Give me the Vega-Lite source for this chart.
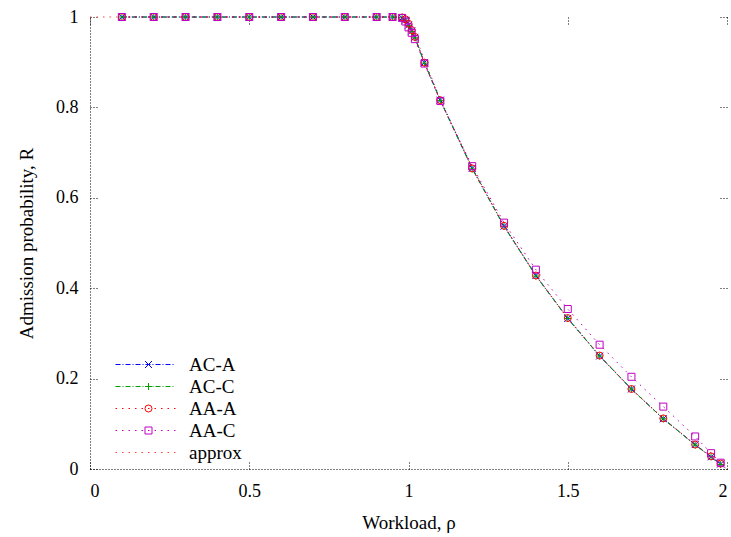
{
  "$schema": "https://vega.github.io/schema/vega-lite/v6.json",
  "width": 637,
  "height": 452,
  "autosize": {"type": "none"},
  "padding": {"left": 90, "top": 17, "right": 4, "bottom": 68},
  "background": "white",
  "config": {
    "font": "Liberation Serif",
    "view": {"stroke": null},
    "axis": {
      "labelFont": "Liberation Serif",
      "titleFont": "Liberation Serif",
      "labelFontSize": 18,
      "titleFontSize": 19,
      "titleFontWeight": "normal",
      "labelColor": "black",
      "titleColor": "black",
      "domainColor": "black",
      "domainDash": [1, 2],
      "tickColor": "black",
      "tickDash": [1, 2],
      "tickSize": -7,
      "grid": false
    },
    "legend": {
      "labelFont": "Liberation Serif",
      "labelFontSize": 19,
      "labelColor": "black"
    }
  },
  "data": {
    "values": [
      {"rho": 0.0, "R": 1.0, "s": "approx"},
      {"rho": 0.1, "R": 1.0, "s": "approx"},
      {"rho": 0.5, "R": 1.0, "s": "approx"},
      {"rho": 0.9, "R": 1.0, "s": "approx"},
      {"rho": 1.0, "R": 1.0, "s": "approx"},
      {"rho": 1.01, "R": 0.980, "s": "approx"},
      {"rho": 1.02, "R": 0.961, "s": "approx"},
      {"rho": 1.05, "R": 0.905, "s": "approx"},
      {"rho": 1.1, "R": 0.818, "s": "approx"},
      {"rho": 1.2, "R": 0.667, "s": "approx"},
      {"rho": 1.3, "R": 0.538, "s": "approx"},
      {"rho": 1.4, "R": 0.429, "s": "approx"},
      {"rho": 1.5, "R": 0.333, "s": "approx"},
      {"rho": 1.6, "R": 0.25, "s": "approx"},
      {"rho": 1.7, "R": 0.176, "s": "approx"},
      {"rho": 1.8, "R": 0.111, "s": "approx"},
      {"rho": 1.9, "R": 0.053, "s": "approx"},
      {"rho": 1.95, "R": 0.026, "s": "approx"},
      {"rho": 2.0, "R": 0.0, "s": "approx"},

      {"rho": 0.1, "R": 1.0, "s": "AC-A"},
      {"rho": 0.2, "R": 1.0, "s": "AC-A"},
      {"rho": 0.3, "R": 1.0, "s": "AC-A"},
      {"rho": 0.4, "R": 1.0, "s": "AC-A"},
      {"rho": 0.5, "R": 1.0, "s": "AC-A"},
      {"rho": 0.6, "R": 1.0, "s": "AC-A"},
      {"rho": 0.7, "R": 1.0, "s": "AC-A"},
      {"rho": 0.8, "R": 1.0, "s": "AC-A"},
      {"rho": 0.9, "R": 1.0, "s": "AC-A"},
      {"rho": 0.95, "R": 1.0, "s": "AC-A"},
      {"rho": 0.98, "R": 0.998, "s": "AC-A"},
      {"rho": 0.99, "R": 0.993, "s": "AC-A"},
      {"rho": 1.0, "R": 0.982, "s": "AC-A"},
      {"rho": 1.01, "R": 0.969, "s": "AC-A"},
      {"rho": 1.02, "R": 0.955, "s": "AC-A"},
      {"rho": 1.05, "R": 0.899, "s": "AC-A"},
      {"rho": 1.1, "R": 0.816, "s": "AC-A"},
      {"rho": 1.2, "R": 0.665, "s": "AC-A"},
      {"rho": 1.3, "R": 0.537, "s": "AC-A"},
      {"rho": 1.4, "R": 0.428, "s": "AC-A"},
      {"rho": 1.5, "R": 0.333, "s": "AC-A"},
      {"rho": 1.6, "R": 0.25, "s": "AC-A"},
      {"rho": 1.7, "R": 0.177, "s": "AC-A"},
      {"rho": 1.8, "R": 0.111, "s": "AC-A"},
      {"rho": 1.9, "R": 0.054, "s": "AC-A"},
      {"rho": 1.95, "R": 0.027, "s": "AC-A"},
      {"rho": 1.98, "R": 0.011, "s": "AC-A"},

      {"rho": 0.1, "R": 1.0, "s": "AC-C"},
      {"rho": 0.2, "R": 1.0, "s": "AC-C"},
      {"rho": 0.3, "R": 1.0, "s": "AC-C"},
      {"rho": 0.4, "R": 1.0, "s": "AC-C"},
      {"rho": 0.5, "R": 1.0, "s": "AC-C"},
      {"rho": 0.6, "R": 1.0, "s": "AC-C"},
      {"rho": 0.7, "R": 1.0, "s": "AC-C"},
      {"rho": 0.8, "R": 1.0, "s": "AC-C"},
      {"rho": 0.9, "R": 1.0, "s": "AC-C"},
      {"rho": 0.95, "R": 1.0, "s": "AC-C"},
      {"rho": 0.98, "R": 0.998, "s": "AC-C"},
      {"rho": 0.99, "R": 0.993, "s": "AC-C"},
      {"rho": 1.0, "R": 0.981, "s": "AC-C"},
      {"rho": 1.01, "R": 0.968, "s": "AC-C"},
      {"rho": 1.02, "R": 0.954, "s": "AC-C"},
      {"rho": 1.05, "R": 0.898, "s": "AC-C"},
      {"rho": 1.1, "R": 0.815, "s": "AC-C"},
      {"rho": 1.2, "R": 0.664, "s": "AC-C"},
      {"rho": 1.3, "R": 0.537, "s": "AC-C"},
      {"rho": 1.4, "R": 0.427, "s": "AC-C"},
      {"rho": 1.5, "R": 0.333, "s": "AC-C"},
      {"rho": 1.6, "R": 0.25, "s": "AC-C"},
      {"rho": 1.7, "R": 0.177, "s": "AC-C"},
      {"rho": 1.8, "R": 0.111, "s": "AC-C"},
      {"rho": 1.9, "R": 0.053, "s": "AC-C"},
      {"rho": 1.95, "R": 0.027, "s": "AC-C"},
      {"rho": 1.98, "R": 0.010, "s": "AC-C"},

      {"rho": 0.1, "R": 1.0, "s": "AA-A"},
      {"rho": 0.2, "R": 1.0, "s": "AA-A"},
      {"rho": 0.3, "R": 1.0, "s": "AA-A"},
      {"rho": 0.4, "R": 1.0, "s": "AA-A"},
      {"rho": 0.5, "R": 1.0, "s": "AA-A"},
      {"rho": 0.6, "R": 1.0, "s": "AA-A"},
      {"rho": 0.7, "R": 1.0, "s": "AA-A"},
      {"rho": 0.8, "R": 1.0, "s": "AA-A"},
      {"rho": 0.9, "R": 1.0, "s": "AA-A"},
      {"rho": 0.95, "R": 1.0, "s": "AA-A"},
      {"rho": 0.98, "R": 0.999, "s": "AA-A"},
      {"rho": 0.99, "R": 0.995, "s": "AA-A"},
      {"rho": 1.0, "R": 0.985, "s": "AA-A"},
      {"rho": 1.01, "R": 0.971, "s": "AA-A"},
      {"rho": 1.02, "R": 0.956, "s": "AA-A"},
      {"rho": 1.05, "R": 0.899, "s": "AA-A"},
      {"rho": 1.1, "R": 0.816, "s": "AA-A"},
      {"rho": 1.2, "R": 0.665, "s": "AA-A"},
      {"rho": 1.3, "R": 0.538, "s": "AA-A"},
      {"rho": 1.4, "R": 0.428, "s": "AA-A"},
      {"rho": 1.5, "R": 0.334, "s": "AA-A"},
      {"rho": 1.6, "R": 0.251, "s": "AA-A"},
      {"rho": 1.7, "R": 0.177, "s": "AA-A"},
      {"rho": 1.8, "R": 0.112, "s": "AA-A"},
      {"rho": 1.9, "R": 0.054, "s": "AA-A"},
      {"rho": 1.95, "R": 0.028, "s": "AA-A"},
      {"rho": 1.98, "R": 0.012, "s": "AA-A"},

      {"rho": 0.1, "R": 1.0, "s": "AA-C"},
      {"rho": 0.2, "R": 1.0, "s": "AA-C"},
      {"rho": 0.3, "R": 1.0, "s": "AA-C"},
      {"rho": 0.4, "R": 1.0, "s": "AA-C"},
      {"rho": 0.5, "R": 1.0, "s": "AA-C"},
      {"rho": 0.6, "R": 1.0, "s": "AA-C"},
      {"rho": 0.7, "R": 1.0, "s": "AA-C"},
      {"rho": 0.8, "R": 1.0, "s": "AA-C"},
      {"rho": 0.9, "R": 1.0, "s": "AA-C"},
      {"rho": 0.95, "R": 1.0, "s": "AA-C"},
      {"rho": 0.98, "R": 0.998, "s": "AA-C"},
      {"rho": 0.99, "R": 0.99, "s": "AA-C"},
      {"rho": 1.0, "R": 0.977, "s": "AA-C"},
      {"rho": 1.01, "R": 0.965, "s": "AA-C"},
      {"rho": 1.02, "R": 0.951, "s": "AA-C"},
      {"rho": 1.05, "R": 0.897, "s": "AA-C"},
      {"rho": 1.1, "R": 0.814, "s": "AA-C"},
      {"rho": 1.2, "R": 0.670, "s": "AA-C"},
      {"rho": 1.3, "R": 0.545, "s": "AA-C"},
      {"rho": 1.4, "R": 0.441, "s": "AA-C"},
      {"rho": 1.5, "R": 0.354, "s": "AA-C"},
      {"rho": 1.6, "R": 0.275, "s": "AA-C"},
      {"rho": 1.7, "R": 0.204, "s": "AA-C"},
      {"rho": 1.8, "R": 0.138, "s": "AA-C"},
      {"rho": 1.9, "R": 0.072, "s": "AA-C"},
      {"rho": 1.95, "R": 0.035, "s": "AA-C"},
      {"rho": 1.98, "R": 0.014, "s": "AA-C"}
    ]
  },
  "layer": [
    {
      "mark": {"type": "line", "strokeWidth": 1, "clip": false},
      "encoding": {
        "x": {"field": "rho", "type": "quantitative", "scale": {"domain": [0, 2], "nice": false},
              "axis": {"title": "Workload, ρ", "values": [0, 0.5, 1, 1.5, 2], "format": "~g", "labelPadding": 20, "titlePadding": 13}},
        "y": {"field": "R", "type": "quantitative", "scale": {"domain": [0, 1], "nice": false},
              "axis": {"title": "Admission probability, R", "values": [0, 0.2, 0.4, 0.6, 0.8, 1], "format": "~g", "labelPadding": 19, "titlePadding": 19}},
        "color": {"field": "s", "type": "nominal",
                  "scale": {"domain": ["AC-A", "AC-C", "AA-A", "AA-C", "approx"], "range": ["#0000ff", "#00a000", "#ff0000", "#c000c0", "#ff4040"]},
                  "legend": {"title": null, "orient": "none", "legendX": 46, "legendY": 338, "symbolType": "M-5,0L5,0", "symbolSize": 144, "symbolStrokeWidth": 1, "labelOffset": 34, "rowPadding": 2, "padding": 0, "labelFontSize": 19}},
        "strokeDash": {"field": "s", "type": "nominal",
                  "scale": {"domain": ["AC-A", "AC-C", "AA-A", "AA-C", "approx"], "range": [[5, 2, 1, 2], [5, 2, 1, 2], [1.5, 5], [1.5, 5], [1.5, 5]]},
                  "legend": {"title": null, "orient": "none", "legendX": 46, "legendY": 338, "symbolType": "M-5,0L5,0", "symbolSize": 144, "symbolStrokeWidth": 1, "labelOffset": 34, "rowPadding": 2, "padding": 0, "labelFontSize": 19}}
      }
    },
    {
      "transform": [{"filter": "datum.s !== 'approx'"}],
      "mark": {"type": "point", "filled": false, "strokeWidth": 1, "size": 49, "clip": false, "opacity": 1},
      "encoding": {
        "x": {"field": "rho", "type": "quantitative", "scale": {"domain": [0, 2], "nice": false},
              "axis": {"orient": "top", "title": null, "labels": false, "domain": false, "values": [0, 0.5, 1, 1.5, 2]}},
        "y": {"field": "R", "type": "quantitative", "scale": {"domain": [0, 1], "nice": false},
              "axis": {"orient": "right", "title": null, "labels": false, "domain": false, "values": [0, 0.2, 0.4, 0.6, 0.8, 1]}},
        "color": {"field": "s", "type": "nominal",
                  "scale": {"domain": ["AC-A", "AC-C", "AA-A", "AA-C"], "range": ["#0000ff", "#00a000", "#ff0000", "#c000c0"]},
                  "legend": {"title": null, "orient": "none", "legendX": 49, "legendY": 338, "symbolSize": 49, "symbolStrokeWidth": 1, "labelColor": "transparent", "rowPadding": 2, "padding": 0, "labelFontSize": 19}},
        "shape": {"field": "s", "type": "nominal",
                  "scale": {"domain": ["AC-A", "AC-C", "AA-A", "AA-C"], "range": ["M-1,-1L1,1M-1,1L1,-1", "M-1,0L1,0M0,-1L0,1", "circle", "square"]},
                  "legend": {"title": null, "orient": "none", "legendX": 49, "legendY": 338, "symbolSize": 49, "symbolStrokeWidth": 1, "labelColor": "transparent", "rowPadding": 2, "padding": 0, "labelFontSize": 19}}
      }
    }
  ],
  "resolve": {
    "scale": {"color": "independent", "strokeDash": "independent", "shape": "independent"},
    "legend": {"color": "independent", "strokeDash": "independent", "shape": "independent"},
    "axis": {"x": "independent", "y": "independent"}
  }
}
